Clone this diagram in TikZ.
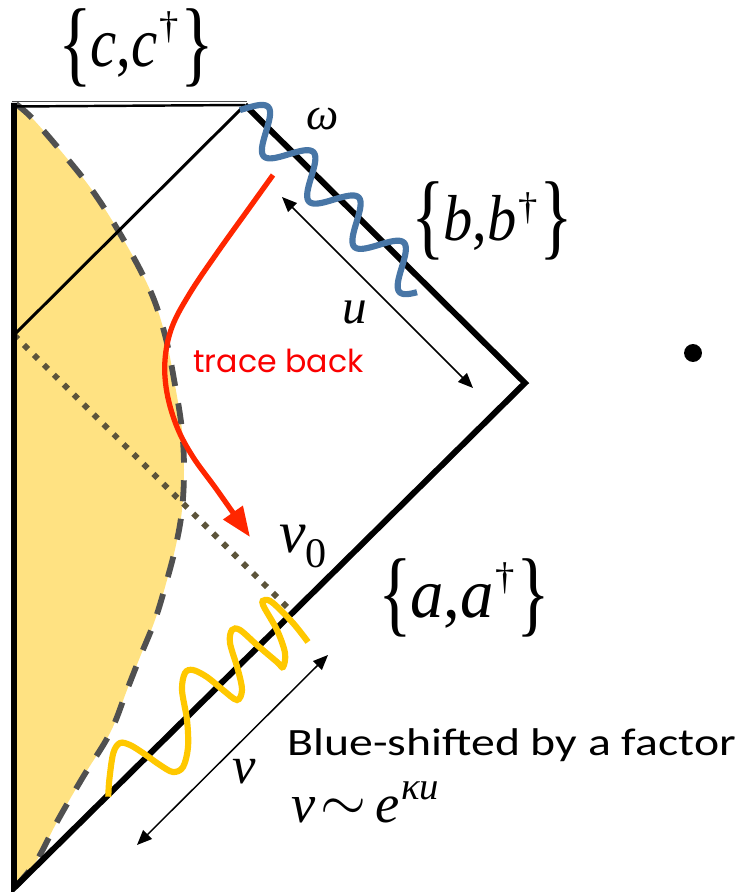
\documentclass[tikz,border=0pt]{standalone}
\usepackage{fontspec}
\usepackage{graphicx}
\setmainfont{Liberation Serif}[ItalicFont={Liberation Serif Italic}]
\newfontfamily\calibfont{Carlito}
\newfontfamily\handfont{Poppins}
\usetikzlibrary{arrows.meta}
\definecolor{fillyellow}{RGB}{255,226,130}
\definecolor{waveyellow}{RGB}{255,200,0}
\definecolor{waveblue}{RGB}{72,118,166}
\definecolor{dashgray}{RGB}{80,80,80}
\definecolor{dotolive}{RGB}{92,84,58}
\definecolor{tracered}{RGB}{255,38,0}
\definecolor{labelred}{RGB}{250,0,0}
\newcommand\lbrc{\raisebox{-4.5pt}{\scalebox{1}[1.35]{\fontsize{40}{40}\selectfont\{}}}
\newcommand\rbrc{\raisebox{-4.5pt}{\scalebox{1}[1.35]{\fontsize{40}{40}\selectfont\}}}}
% #1 letter, #2 horizontal scale, #3 size, #4 dagger raise
\newcommand\oppair[4]{\lbrc\kern-1pt\scalebox{#2}[1]{\fontsize{#3}{#3}\selectfont\textit{#1},\textit{#1}}\kern1pt\raisebox{#4}{\fontsize{22}{22}\selectfont †}\kern1pt\rbrc}
\begin{document}
\begin{tikzpicture}[x=0.02cm,y=-0.02cm,
  declare function={bw(\s)=-4+19*sin(5.625*(\s-1.7));},
  thickedge/.style={line width=3.4pt,line join=miter},
  thinedge/.style={line width=1.7pt},
  horizon/.style={draw=dashgray,line width=3.3pt,dash pattern=on 12pt off 10pt},
  nullray/.style={draw=dotolive,line width=3.3pt,dash pattern=on 3.3pt off 4.7pt},
  bluewave/.style={draw=waveblue,line width=3.5pt},
  yellowwave/.style={draw=waveyellow,line width=3.5pt},
  tracearrow/.style={draw=tracered,line width=3pt,-{Triangle[length=17pt,width=13pt]}},
  dimarrow/.style={line width=0.85pt,{Triangle[length=8.5pt,width=7pt]}-{Triangle[length=8.5pt,width=7pt]}},
  lbl/.style={inner sep=0pt,anchor=base west}
]
\useasboundingbox (0,0) rectangle (743,892);
% key points
\coordinate (tl) at (14,103);
\coordinate (apex) at (245,105);
\coordinate (rc) at (525,383);
\coordinate (bot) at (14,888);
\coordinate (mid) at (14,335);
\coordinate (v0p) at (293,613);
% yellow region
\fill[fillyellow] (14,104) -- plot[smooth,tension=0.6] coordinates {(16,104) (32,118) (60,150) (92,190) (122,237) (150,290) (165,335) (175,385) (182,430) (184,470) (182,510) (176,545) (167,580) (155,620) (140,657) (127,690) (110,733) (83,777) (58,820) (37,860) (18,884)} -- (14,884) -- cycle;
\draw[horizon] plot[smooth,tension=0.6] coordinates {(16,104) (32,118) (60,150) (92,190) (122,237) (150,290) (165,335) (175,385) (182,430) (184,470) (182,510) (176,545) (167,580) (155,620) (140,657) (127,690) (110,733) (83,777) (58,820) (37,860) (18,884)};
% top double line
\draw[line width=0.8pt,black!70] (12,101.5) -- (247,101.5);
\draw[line width=1.4pt] (14,106.5) -- (apex);
% thin diagonal
\draw[thinedge] (apex) -- (mid);
% dotted null ray
\draw[nullray] (mid) -- (v0p);
% thick boundary
\draw[thickedge] (apex) -- (rc) -- (bot) -- (tl);
% blue wave
\draw[bluewave] plot[domain=0:254,samples=220,variable=\s] ({245+(\s+bw(\s))*0.7071},{105+(\s-bw(\s))*0.7071});
% yellow wave
\draw[yellowwave] plot[smooth,tension=0.55] coordinates {(108.3,796.7) (109.3,780) (113.3,753) (120,743) (130,745) (143,753) (160,765) (173,772) (183,767) (188,747) (187,720) (182,690) (185,673) (193,670) (207,677) (223,690) (237,700) (242,690) (238,670) (230,643) (232,630) (240,630) (257,645) (277,662) (283,667) (285,653) (277,630) (263,605) (265,600) (273,603) (293,623) (308,642)};
% red trace back
\draw[tracearrow] plot[smooth,tension=0.6] coordinates {(273,175) (250,207) (217,253) (190,293) (172,327) (165,360) (167,393) (177,427) (193,457) (217,490) (250,537)};
% dimension arrows
\coordinate (uA) at (282,197);
\coordinate (uB) at (473,388);
\draw[dimarrow] (uA) -- (uB);
\coordinate (vA) at (137,845);
\coordinate (vB) at (328,655);
\draw[dimarrow] (vA) -- (vB);
% dot
\node[circle,fill=black,inner sep=0pt,minimum size=10.2pt] (dot) at (693,353) {};
% labels
\node[lbl] (cpair) at (58,67) {\oppair{c}{0.84}{40}{16pt}};
\node[lbl] (bpair) at (411,240) {\oppair{b}{0.9}{37}{11.6pt}};
\node[lbl] (apair) at (378,617) {\oppair{a}{0.95}{40}{15.6pt}};
\node[lbl,font=\fontsize{26}{26}\selectfont] (omega) at (306,130) {\textit{ω}};
\node[lbl,font=\fontsize{28}{28}\selectfont] (ulbl) at (342,323) {\textit{u}};
\node[lbl,font=\fontsize{34}{34}\selectfont] (vzero) at (279,552) {\textit{v}\raisebox{-9pt}{\fontsize{24}{24}\selectfont 0}};
\node[lbl,font=\fontsize{30}{30}\selectfont] (vlbl) at (232,783) {\textit{v}};
\node[lbl,font=\fontsize{18}{18}\selectfont\handfont,text=labelred] (trace) at (193,372) {trace back};
\node[lbl,font=\fontsize{22}{22}\selectfont\calibfont] (blue) at (287,755) {\scalebox{1.235}[1]{Blue-shifted by a factor}};
\node[lbl,font=\fontsize{31}{31}\selectfont] (rel) at (291,822) {\textit{v}\kern3pt\raisebox{1pt}{\scalebox{1.35}{$\sim$}}\kern5pt\textit{e}\kern1pt\raisebox{13pt}{\fontsize{22}{22}\selectfont\textit{κu}}};
\end{tikzpicture}
\end{document}
